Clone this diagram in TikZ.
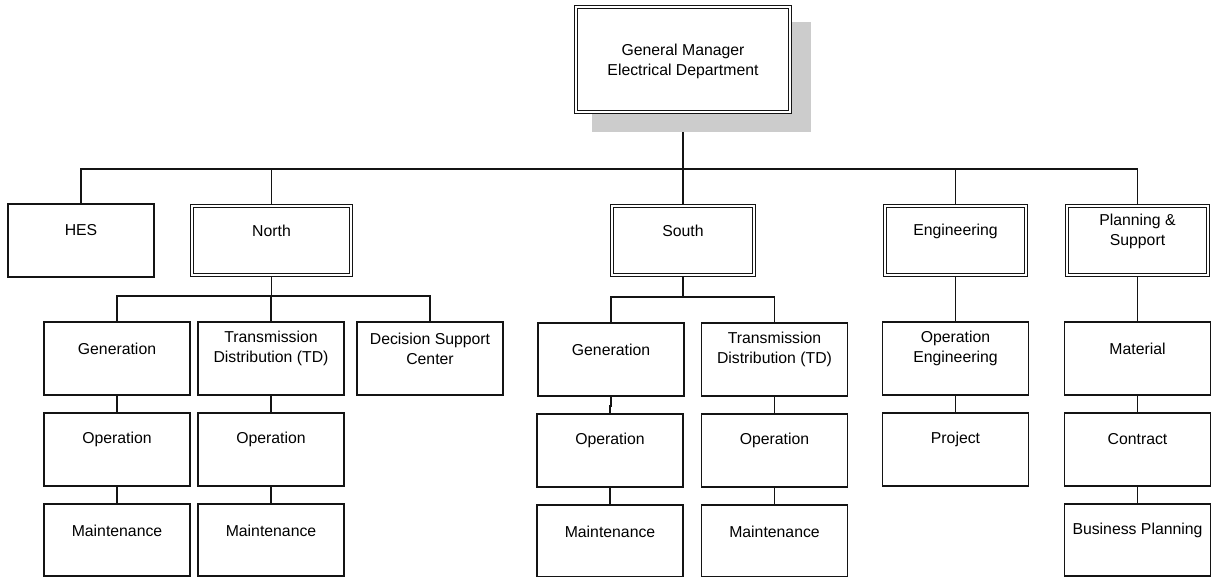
\documentclass[tikz,border=0pt]{standalone}
\usepackage{fontspec}
\setmainfont{Liberation Sans}
\usetikzlibrary{backgrounds}
\definecolor{shadowgray}{gray}{0.8}
\definecolor{ink}{gray}{0.08}
\tikzset{
  box/.style={draw=ink, fill=white, line width=1.25pt, minimum width=146pt, minimum height=73pt,
              inner sep=0pt, outer sep=0pt},
  dbox/.style={draw=ink, fill=white, double, double distance=2.2pt, line width=1.05pt,
              inner sep=0pt, outer sep=0pt, minimum height=69pt},
  lblbase/.style={anchor=center, align=center, inner sep=0pt,
              font=\fontsize{15.8}{20}\selectfont},
  lbl/.style={lblbase, yshift=-26.5pt},
  dlbl/.style={lblbase, yshift=-25pt},
  gmlbl/.style={lblbase, yshift=-2pt},
  link/.style={draw=ink, line width=1.4pt},
  mainlink/.style={draw=ink, line width=2pt}
}
\begin{document}
\begin{tikzpicture}[x=1pt,y=-1pt]
\useasboundingbox (0,0) rectangle (1217,577);
% shadow of top box
\fill[shadowgray] (592,22) rectangle (811,132);
% top box
\node[dbox, minimum width=214pt, minimum height=105pt,
      label={[gmlbl]center:General Manager\\Electrical Department}] (gm) at (683,59.5) {};
% level 2
\node[box, label={[lbl]north:HES}] (hes) at (81,240.5) {};
\node[dbox, minimum width=159pt, label={[dlbl]north:North}] (north) at (271.5,240.5) {};
\node[dbox, minimum width=142pt, label={[dlbl]north:South}] (south) at (683,240.5) {};
\node[dbox, minimum width=141.5pt, label={[dlbl]north:Engineering}] (eng) at (955.5,240.5) {};
\node[dbox, minimum width=141pt, label={[dlbl]north:Planning \&\\Support}] (ps) at (1137.5,240.5) {};
% level 3
\node[box, label={[lbl]north:Generation}] (ngen) at (117,358.5) {};
\node[box, label={[lbl]north:Transmission\\Distribution (TD)}] (ntd) at (271,358.5) {};
\node[box, label={[lbl]north:Decision Support\\Center}] (dsc) at (430,358.5) {};
\node[box, label={[lbl]north:Generation}] (sgen) at (611,359.5) {};
\node[box, label={[lbl]north:Transmission\\Distribution (TD)}] (std) at (774.5,359.5) {};
\node[box, label={[lbl]north:Operation\\Engineering}] (openg) at (955.5,358.5) {};
\node[box, label={[lbl]north:Material}] (mat) at (1137.5,358.5) {};
% level 4
\node[box, label={[lbl]north:Operation}] (nop) at (117,449.5) {};
\node[box, label={[lbl]north:Operation}] (ntdop) at (271,449.5) {};
\node[box, label={[lbl]north:Operation}] (sop) at (610,450.5) {};
\node[box, label={[lbl]north:Operation}] (stdop) at (774.5,450.5) {};
\node[box, label={[lbl]north:Project}] (proj) at (955.5,449.5) {};
\node[box, label={[lbl]north:Contract}] (contr) at (1137.5,449.5) {};
% level 5
\node[box, minimum height=72pt, label={[lbl]north:Maintenance}] (nmain) at (117,540) {};
\node[box, minimum height=72pt, label={[lbl]north:Maintenance}] (ntdmain) at (271,540) {};
\node[box, minimum height=72pt, label={[lbl]north:Maintenance}] (smain) at (610,541) {};
\node[box, minimum height=72pt, label={[lbl]north:Maintenance}] (stdmain) at (774.5,541) {};
\node[box, minimum height=72pt, label={[lbl]north:Business Planning}] (bp) at (1137.5,540) {};
% bus levels
\coordinate (bus) at (0,169);
\coordinate (nbus) at (0,296);
\coordinate (sbus) at (0,297);
\begin{scope}[on background layer]
  \draw[mainlink] (gm.south) -- (gm.south |- bus);
  \draw[link] (hes.north) -- (hes.north |- bus) -| (ps.north);
  \draw[link] (north.north) -- (north.north |- bus);
  \draw[link] (south.north) -- (south.north |- bus);
  \draw[link] (eng.north) -- (eng.north |- bus);
  % north branch
  \draw[link] (north.south) -- (north.south |- nbus);
  \draw[link] (ngen.north) -- (ngen.north |- nbus) -| (dsc.north);
  \draw[link] (ntd.north) -- (ntd.north |- nbus);
  \draw[link] (ngen.south) -- (nop.north);
  \draw[link] (nop.south) -- (nmain.north);
  \draw[link] (ntd.south) -- (ntdop.north);
  \draw[link] (ntdop.south) -- (ntdmain.north);
  % south branch
  \draw[link] (south.south) -- (south.south |- sbus);
  \draw[link] (sgen.north) -- (sgen.north |- sbus) -| (std.north);
  \draw[link] (sgen.south) -- ++(0,10) -| (sop.north);
  \draw[link] (sop.south) -- (smain.north);
  \draw[link] (std.south) -- (stdop.north);
  \draw[link] (stdop.south) -- (stdmain.north);
  % engineering
  \draw[link] (eng.south) -- (openg.north);
  \draw[link] (openg.south) -- (proj.north);
  % planning
  \draw[link] (ps.south) -- (mat.north);
  \draw[link] (mat.south) -- (contr.north);
  \draw[link] (contr.south) -- (bp.north);
\end{scope}
\end{tikzpicture}
\end{document}
